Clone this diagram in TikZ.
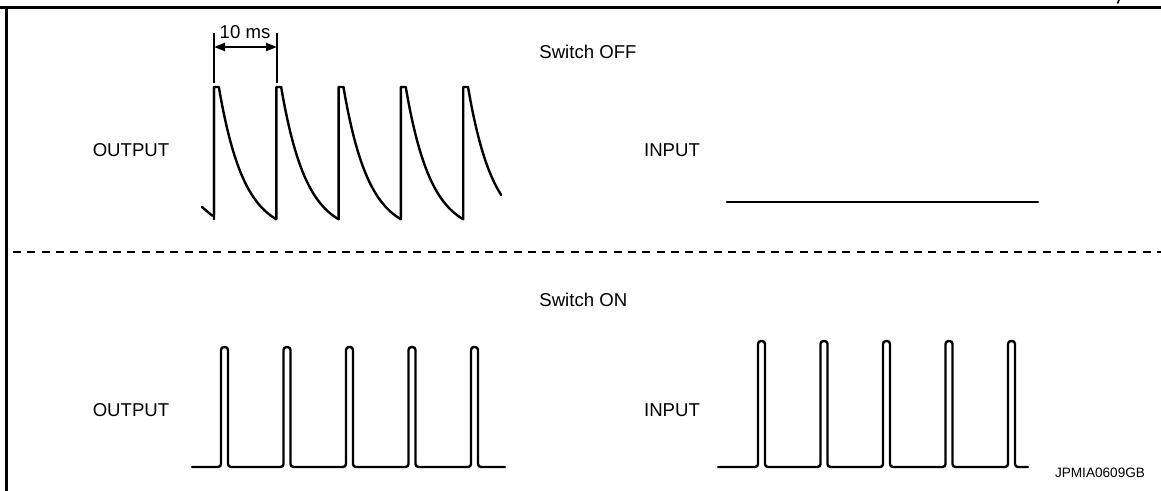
\documentclass[tikz,border=0pt]{standalone}
\usepackage{fontspec}
\setmainfont{Liberation Sans}
\usetikzlibrary{arrows.meta}
\begin{document}
\begin{tikzpicture}[x=0.5pt,y=-0.5pt,
  lbl/.style={inner sep=0pt, font=\fontsize{9.3}{11}\selectfont},
  codelbl/.style={inner sep=0pt, font=\fontsize{6.8}{8}\selectfont},
  wave/.style={line width=1.2pt, line join=round, line cap=round},
  frame/.style={line width=1.5pt},
  divider/.style={line width=1pt, dash pattern=on 4pt off 3.15pt},
  marker/.style={line width=0.8pt},
  span/.style={line width=1.1pt, {Triangle[length=5.5pt,width=4pt]}-{Triangle[length=5.5pt,width=4pt]}}]
\useasboundingbox (0,0) rectangle (1161,491);
% frame
\draw[frame] (0,7.7) -- (1161,7.7);
\draw[frame] (6,7.7) -- (6,491);
\draw[line width=0.8pt] (1119,0) -- (1117.5,3.5);
% divider
\draw[divider] (13,252) -- (1161,252);
% labels
\node[lbl] (t10) at (245,32) {10 ms};
\node[lbl, anchor=west] (soff) at (539,52) {Switch OFF};
\node[lbl, anchor=west] (son) at (539,300) {Switch ON};
\node[lbl] (out1) at (131,150) {OUTPUT};
\node[lbl] (in1) at (672,150) {INPUT};
\node[lbl] (out2) at (131,410) {OUTPUT};
\node[lbl] (in2) at (672,410) {INPUT};
\node[codelbl] (code) at (1100,473) {JPMIA0609GB};
% 10 ms marker
\coordinate (m1) at (214,47);
\coordinate (m2) at (277,47);
\draw[marker] (214,33) -- (214,83);
\draw[marker] (277,33) -- (277,83);
\draw[span] (m1) -- (m2);
% OFF output waveform
\draw[wave] (202,207) -- (212,215.5) -- (214,215.5) -- (214,87);
\foreach \i in {0,...,4}{
  \pgfmathsetmacro\xr{214+62.3*\i}
  \pgfmathsetmacro\tmax{\i<4 ? 57.3 : 33}
  \draw[wave] (\xr,219.2) -- (\xr,87) -- ({\xr+5},87) -- plot[domain=0:\tmax,samples=30] ({\xr+5+\x},{88+146*(1-exp(-\x/25))});
}
% OFF input
\draw[wave] (727,202) -- (1038,202);
% ON output
\draw[wave, rounded corners=1.5pt] (192,467)
  foreach \a in {221,283.5,346,408.5,471} { -- (\a,467) -- (\a,347) -- ({\a+7},347) -- ({\a+7},467) } -- (505,467);
% ON input
\draw[wave, rounded corners=1.5pt] (718,467)
  foreach \a in {758,820.5,883,945.5,1008} { -- (\a,467) -- (\a,341) -- ({\a+7},341) -- ({\a+7},467) } -- (1028,467);
\end{tikzpicture}
\end{document}
